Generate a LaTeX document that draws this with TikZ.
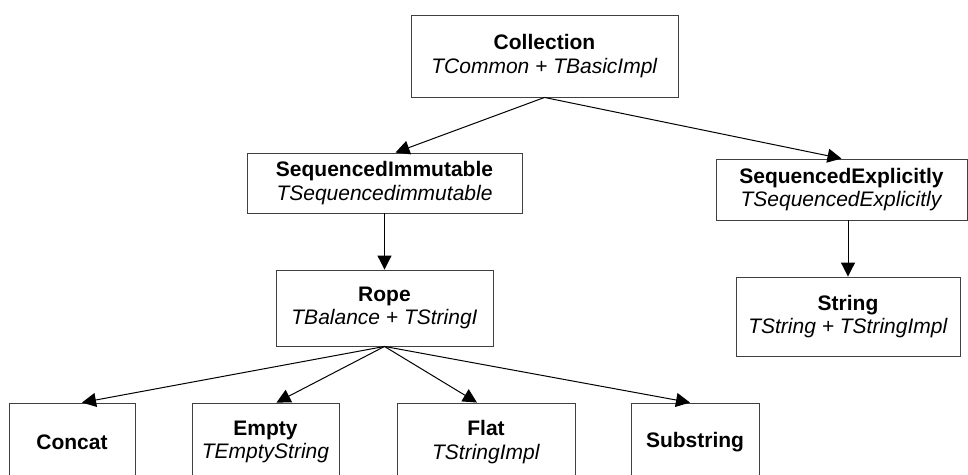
\documentclass[tikz,border=0pt]{standalone}
\usepackage{fontspec}
\setmainfont{Liberation Sans}
\usetikzlibrary{arrows.meta}

\tikzstyle{block} = [rectangle, draw=black!75, fill=white, text centered, align=center, inner sep=0pt, line width=0.9pt, font=\fontsize{21}{23.5}\selectfont]
\tikzstyle{arrow} = [draw, line width=1pt, -{Triangle[length=14pt, width=14pt]}]

\begin{document}
\begin{tikzpicture}[node distance=127pt, auto]
    \clip (-544.5pt,56pt) rectangle (423.5pt,-418pt);

    \node[block, minimum width=267pt, minimum height=82pt] (coll) {\textbf{Collection}\\\textit{TCommon + TBasicImpl}};
    \node[block, below of=coll, xshift=-160pt, minimum width=275pt, minimum height=60pt] (seqimm) {\textbf{SequencedImmutable}\\\textit{TSequencedimmutable}};
    \node[block, below of=coll, xshift=297pt, node distance=133.5pt, minimum width=251pt, minimum height=61pt] (seqexp) {\textbf{SequencedExplicitly}\\\textit{TSequencedExplicitly}};

    \node[block, below of=seqimm, node distance=125pt, minimum width=217pt, minimum height=76pt] (rope) {\textbf{Rope}\\\textit{TBalance + TStringI}};
    \node[block, below of=seqexp, xshift=6.5pt, minimum width=224pt, minimum height=79pt] (str) {\textbf{String}\\\textit{TString + TStringImpl}};

    \node[block, below of=rope, xshift=-312.5pt, node distance=134pt, minimum width=126pt, minimum height=78pt] (concat) {\textbf{Concat}};
    \node[block, below of=rope, xshift=-119pt, node distance=134pt, minimum width=147pt, minimum height=78pt] (empty) {\textbf{Empty}\\\textit{TEmptyString}};
    \node[block, below of=rope, xshift=101.5pt, node distance=134pt, minimum width=178pt, minimum height=78pt] (flat) {\textbf{Flat}\\\textit{TStringImpl}};
    \node[block, below of=rope, xshift=310.5pt, node distance=134pt, minimum width=128pt, minimum height=78pt] (substr) {\textbf{Substring}};

    % lines
    \draw [arrow] (coll.south) to ([xshift=11pt]seqimm.north);
    \draw [arrow] (coll.south) to (seqexp.north);
    \draw [arrow] (seqimm.south) to (rope.north);
    \draw [arrow] (seqexp.south -| str.north) to (str.north);
    \draw [arrow] (rope.south) to ([xshift=10pt]concat.north);
    \draw [arrow] (rope.south) to ([xshift=11pt]empty.north);
    \draw [arrow] (rope.south) to ([xshift=-9pt]flat.north);
    \draw [arrow] (rope.south) to ([xshift=-5pt]substr.north);
\end{tikzpicture}
\end{document}
